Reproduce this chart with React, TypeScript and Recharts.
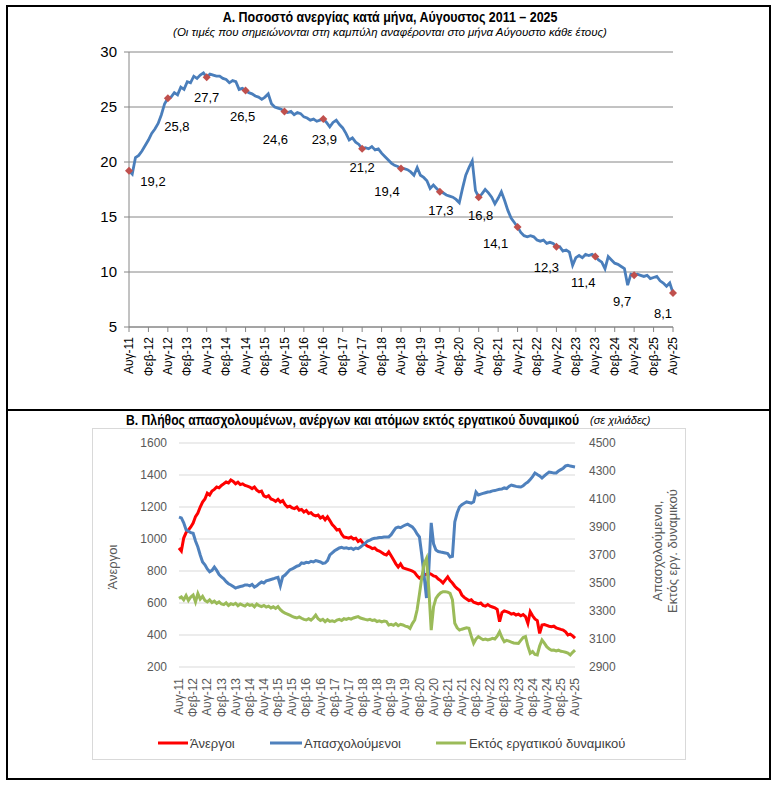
import React from "react";
import { LineChart, Line, XAxis, YAxis, CartesianGrid } from "recharts";

// Greek month abbreviations used for the category labels
const monthNames = ["Ιαν", "Φεβ", "Μαρ", "Απρ", "Μαϊ", "Ιουν", "Ιουλ", "Αυγ", "Σεπ", "Οκτ", "Νοε", "Δεκ"];

// Aug 2011 .. Aug 2025, monthly
const months: string[] = [];
for (let i = 0; i < 169; i++) {
  const m = (7 + i) % 12;
  const y = 2011 + Math.floor((7 + i) / 12);
  months.push(`${monthNames[m]}-${String(y).slice(2)}`);
}

// Panel A: unemployment rate (%)
const unemploymentRate = [
  19.2, 18.9, 20.4, 20.6, 21.0,
  21.5, 22.0, 22.6, 23.0, 23.5, 24.3, 25.3, 25.8, 25.9, 26.3, 26.1, 26.8,
  26.6, 27.3, 27.2, 27.8, 27.6, 27.9, 28.1, 27.7, 28.0, 27.9, 27.8, 27.8,
  27.6, 27.5, 27.2, 27.4, 27.3, 26.6, 26.7, 26.5, 26.3, 26.2, 26.0, 25.9,
  25.7, 25.9, 26.2, 25.3, 25.0, 24.9, 24.8, 24.6, 24.5, 24.6, 24.3, 24.5,
  24.4, 24.1, 24.0, 23.8, 23.9, 23.7, 23.8, 23.9, 23.6, 23.2, 23.6, 23.8,
  23.4, 23.1, 22.6, 22.0, 22.2, 21.8, 21.6, 21.2, 21.3, 21.2, 21.4, 21.1,
  21.2, 20.8, 20.5, 20.2, 19.9, 19.7, 19.6, 19.4, 19.4, 19.3, 19.1, 18.8,
  19.5, 18.8, 18.6, 18.3, 17.6, 17.9, 17.6, 17.3, 17.2, 17.0, 16.9, 16.8,
  16.6, 16.3, 17.6, 18.8, 19.5, 20.1, 17.4, 16.8, 17.1, 17.5, 17.2, 16.8,
  16.2, 16.7, 17.3, 16.5, 15.6, 14.9, 14.5, 14.1, 13.6, 13.3, 13.2, 13.3,
  13.2, 12.9, 12.8, 12.9, 12.6, 12.7, 12.6, 12.3, 12.3, 11.9, 12.0, 11.8,
  10.6, 11.3, 11.5, 11.3, 11.6, 11.5, 11.6, 11.4, 11.1, 10.9, 10.3, 11.4,
  11.1, 10.8, 10.7, 10.5, 10.3, 8.8, 9.8, 9.7, 9.8, 9.7, 9.6, 9.7,
  9.4, 9.5, 9.6, 9.2, 9.0, 8.7, 9.0, 8.1,
];

// Panel B (thousands)
const unemployed = [
  944, 925, 1006, 1040, 1056,
  1075, 1100, 1140, 1162, 1200, 1231, 1250, 1287, 1275, 1300, 1310, 1325,
  1320, 1335, 1345, 1356, 1350, 1369, 1360, 1345, 1355, 1340, 1345, 1335,
  1330, 1325, 1315, 1325, 1305, 1295, 1300, 1270, 1262, 1270, 1250, 1245,
  1235, 1248, 1231, 1240, 1215, 1200, 1205, 1195, 1190, 1200, 1180, 1185,
  1169, 1178, 1160, 1165, 1150, 1145, 1150, 1131, 1140, 1120, 1138, 1115,
  1090, 1075, 1056, 1060, 1030, 1012, 1010, 1005, 1012, 1000, 1005, 985,
  994, 975, 965, 955, 950, 940, 944, 930, 925, 915, 906, 900,
  919, 895, 870, 845, 825, 844, 820, 815, 810, 805, 800, 790,
  770, 756, 765, 775, 780, 787, 780, 769, 765, 750, 740, 725,
  745, 763, 740, 725, 705, 690, 680, 650, 635, 625, 615, 620,
  605, 600, 595, 600, 585, 580, 590, 580, 575, 570, 560, 483,
  540, 550, 546, 540, 530, 535, 525, 530, 520, 528, 515, 473,
  546, 520, 500, 490, 410, 462, 465, 460, 455, 452, 455, 445,
  440, 435, 431, 420, 400, 405, 395, 381,
];

const employed = [
  3971, 3965, 3930, 3880, 3870,
  3860, 3855, 3800, 3757, 3700, 3650, 3630, 3600, 3580, 3590, 3614, 3590,
  3560, 3543, 3530, 3510, 3495, 3486, 3475, 3464, 3470, 3475, 3478, 3486,
  3486, 3480, 3490, 3471, 3480, 3495, 3507, 3500, 3515, 3520, 3525, 3530,
  3536, 3540, 3480, 3545, 3557, 3575, 3593, 3600, 3610, 3620, 3625, 3643,
  3640, 3648, 3645, 3655, 3650, 3660, 3655, 3650, 3640, 3643, 3660, 3700,
  3715, 3730, 3740, 3750, 3755, 3748, 3752, 3745, 3750, 3740, 3750, 3745,
  3757, 3770, 3785, 3800, 3807, 3815, 3820, 3821, 3825, 3825, 3828, 3829,
  3829, 3845, 3870, 3893, 3900, 3895, 3905, 3914, 3920, 3910, 3900, 3880,
  3850, 3829, 3700, 3550, 3393, 3600, 3929, 3780, 3736, 3725, 3721, 3718,
  3714, 3710, 3686, 3690, 3936, 4000, 4043, 4060, 4070, 4079, 4075, 4071,
  4080, 4150, 4129, 4135, 4140, 4145, 4150, 4152, 4158, 4160, 4165, 4170,
  4172, 4179, 4175, 4190, 4200, 4195, 4190, 4188, 4186, 4195, 4210, 4221,
  4240, 4260, 4286, 4275, 4265, 4250, 4265, 4280, 4293, 4290, 4285, 4286,
  4300, 4310, 4320, 4336, 4340, 4335, 4332, 4329,
];

const outsideLabourForce = [
  3390, 3400, 3380, 3410, 3375,
  3400, 3414, 3365, 3425, 3385, 3405, 3375, 3365, 3380, 3360, 3370, 3355,
  3365, 3350, 3345, 3358, 3340, 3352, 3345, 3355, 3338, 3350, 3342, 3335,
  3350, 3340, 3345, 3330, 3350, 3338, 3332, 3340, 3328, 3335, 3322, 3330,
  3318, 3331, 3310, 3295, 3285, 3278, 3270, 3262, 3255, 3250, 3258, 3248,
  3240, 3236, 3245, 3235, 3250, 3271, 3245, 3232, 3240, 3224, 3238, 3226,
  3230, 3224, 3235, 3240, 3232, 3245, 3240, 3248, 3242, 3250, 3255, 3260,
  3250, 3245, 3240, 3236, 3240, 3232, 3236, 3225, 3230, 3222, 3228, 3225,
  3200, 3205, 3198, 3210, 3195, 3205, 3200, 3192, 3188, 3175, 3210, 3236,
  3307, 3420, 3540, 3640, 3676, 3450, 3164, 3331, 3390, 3414, 3430, 3438,
  3438, 3435, 3426, 3380, 3212, 3180, 3164, 3170, 3175, 3180, 3176, 3120,
  3069, 3100, 3117, 3105, 3095, 3100, 3093, 3098, 3105, 3100, 3120, 3152,
  3110, 3081, 3090, 3085, 3078, 3072, 3070, 3069, 3090, 3110, 3117, 3050,
  2998, 3010, 2990, 2986, 3050, 3093, 3070, 3045, 3030, 3020, 3021, 3015,
  3020, 3012, 3010, 3005, 3000, 2986, 3005, 3021,
];

const rateTicks = [5, 10, 15, 20, 25, 30];
const leftTicks = [200, 400, 600, 800, 1000, 1200, 1400, 1600];
const rightTicks = [2900, 3100, 3300, 3500, 3700, 3900, 4100, 4300, 4500];

// label offsets (dx, dy) for the August values, one per year
const labelOffsets = [
  [24, 11], [9, 28], [0, 20], [-3, 26], [-9, 28], [1, 20], [0, 19], [-14, 23],
  [1, 19], [2, 18], [-22, 17], [-10, 21], [-12, 26], [-12, 26], [-10, 21],
];

const dataA = months.map((m, i) => ({ month: m, rate: unemploymentRate[i] }));
const dataB = months.map((m, i) => ({
  month: m,
  unemployed: unemployed[i],
  employed: employed[i],
  outside: outsideLabourForce[i],
}));

const FONT = "'Liberation Sans', Arial, sans-serif";

const VerticalTick = (props: any) => {
  const { x, y, payload, fill } = props;
  return (
    <text
      x={x}
      y={y}
      transform={`rotate(-90 ${x} ${y})`}
      textAnchor="end"
      dy="0.35em"
      fontSize={12}
      fontFamily={FONT}
      fill={fill}
    >
      {payload.value}
    </text>
  );
};

const renderAugust = (props: any) => {
  const { cx, cy, index, payload } = props;
  if (index % 12 !== 0) return <g key={`d${index}`} />;
  const [dx, dy] = labelOffsets[index / 12];
  const r = 4;
  return (
    <g key={`d${index}`}>
      <path d={`M${cx},${cy - r} L${cx + r},${cy} L${cx},${cy + r} L${cx - r},${cy} Z`} fill="#C0504D" />
      <text
        x={cx + dx}
        y={cy + dy}
        textAnchor="middle"
        dominantBaseline="central"
        fontSize={13}
        fontFamily={FONT}
        fill="#000"
      >
        {payload.rate.toFixed(1).replace(".", ",")}
      </text>
    </g>
  );
};

const titleStyle: React.CSSProperties = {
  fontFamily: FONT,
  fontWeight: "bold",
  fontSize: 14,
  color: "#000",
  whiteSpace: "nowrap",
  display: "inline-block",
};

export default function App() {
  return (
    <div style={{ position: "absolute", left: 0, top: 0, width: 780, height: 787, background: "#fff", fontFamily: FONT }}>
      <div style={{ position: "absolute", left: 6, top: 5, width: 765, height: 775, border: "2px solid #000", boxSizing: "border-box" }} />
      <div style={{ position: "absolute", left: 6, top: 409, width: 765, height: 2, background: "#000" }} />

      <div style={{ position: "absolute", left: 0, top: 8, width: 780, textAlign: "center" }}>
        <span style={{ ...titleStyle, transform: "scaleX(0.89)", transformOrigin: "center" }}>
          Α. Ποσοστό ανεργίας κατά μήνα, Αύγουστος 2011 – 2025
        </span>
      </div>
      <div style={{ position: "absolute", left: 0, top: 26, width: 780, textAlign: "center", fontStyle: "italic", fontSize: 11.5, color: "#000" }}>
        (Οι τιμές που σημειώνονται στη καμπύλη αναφέρονται στο μήνα Αύγουστο κάθε έτους)
      </div>

      <div style={{ position: "absolute", left: 0, top: 0 }}>
        <LineChart width={780} height={410} data={dataA} margin={{ top: 52, right: 107, bottom: 13, left: 0 }}>
          <CartesianGrid vertical={false} stroke="#868686" />
          <XAxis
            dataKey="month"
            interval={5}
            height={70}
            stroke="#868686"
            tickSize={5}
            tickMargin={5}
            tick={(p: any) => <VerticalTick {...p} fill="#000" />}
          />
          <YAxis
            domain={[5, 30]}
            ticks={rateTicks}
            width={129}
            stroke="#868686"
            tickSize={5}
            tickMargin={7}
            tick={{ fill: "#000", fontSize: 15, fontFamily: FONT }}
          />
          <Line
            dataKey="rate"
            stroke="#4A7EBB"
            strokeWidth={2.8}
            dot={renderAugust}
            activeDot={false}
            isAnimationActive={false}
          />
        </LineChart>
      </div>

      <div style={{ position: "absolute", left: 126, top: 411 }}>
        <span style={{ ...titleStyle, transform: "scaleX(0.87)", transformOrigin: "left center" }}>
          Β. Πλήθος απασχολουμένων, ανέργων και ατόμων εκτός εργατικού δυναμικού
        </span>
      </div>
      <div style={{ position: "absolute", left: 590, top: 414, fontStyle: "italic", fontSize: 11, color: "#000", whiteSpace: "nowrap" }}>
        (σε χιλιάδες)
      </div>
      <div style={{ position: "absolute", left: 92, top: 428, width: 594, height: 332, border: "1px solid #d9d9d9", boxSizing: "border-box" }} />

      <div style={{ position: "absolute", left: 0, top: 410 }}>
        <LineChart width={780} height={350} data={dataB} margin={{ top: 33, right: 0, bottom: 33, left: 0 }}>
          <CartesianGrid vertical={false} stroke="#d9d9d9" yAxisId="left" />
          <XAxis
            dataKey="month"
            interval={5}
            height={60}
            axisLine={false}
            tickLine={false}
            tickSize={0}
            tickMargin={11}
            tick={(p: any) => <VerticalTick {...p} fill="#595959" />}
          />
          <YAxis
            yAxisId="left"
            domain={[200, 1600]}
            ticks={leftTicks}
            width={179}
            axisLine={false}
            tickLine={false}
            tickSize={0}
            tickMargin={12}
            tick={{ fill: "#595959", fontSize: 12, fontFamily: FONT }}
          />
          <YAxis
            yAxisId="right"
            orientation="right"
            domain={[2900, 4500]}
            ticks={rightTicks}
            width={205}
            axisLine={false}
            tickLine={false}
            tickSize={0}
            tickMargin={14}
            tick={{ fill: "#595959", fontSize: 12, fontFamily: FONT }}
          />
          <Line yAxisId="left" dataKey="unemployed" stroke="#FF0000" strokeWidth={3} dot={false} activeDot={false} isAnimationActive={false} />
          <Line yAxisId="right" dataKey="employed" stroke="#4F81BD" strokeWidth={3} dot={false} activeDot={false} isAnimationActive={false} />
          <Line yAxisId="right" dataKey="outside" stroke="#9BBB59" strokeWidth={3} dot={false} activeDot={false} isAnimationActive={false} />
        </LineChart>
      </div>

      <svg width={780} height={787} style={{ position: "absolute", left: 0, top: 0, pointerEvents: "none" }}>
        <text x={112} y={567} transform="rotate(-90 112 567)" textAnchor="middle" dominantBaseline="central" fontSize={13} fill="#595959" fontFamily={FONT}>
          Άνεργοι
        </text>
        <text transform="rotate(-90 657 551)" x={657} y={551} textAnchor="middle" dominantBaseline="central" fontSize={13} fill="#595959" fontFamily={FONT}>
          Απασχολούμενοι,
        </text>
        <text transform="rotate(-90 672 551)" x={672} y={551} textAnchor="middle" dominantBaseline="central" fontSize={13} fill="#595959" fontFamily={FONT}>
          Εκτός εργ. δυναμικού
        </text>

        <line x1={158} y1={743} x2={188} y2={743} stroke="#FF0000" strokeWidth={3} />
        <text x={190} y={743} dominantBaseline="central" fontSize={13} fill="#404040" fontFamily={FONT}>Άνεργοι</text>
        <line x1={270} y1={743} x2={302} y2={743} stroke="#4F81BD" strokeWidth={3} />
        <text x={304} y={743} dominantBaseline="central" fontSize={13} fill="#404040" fontFamily={FONT}>Απασχολούμενοι</text>
        <line x1={436} y1={743} x2={466} y2={743} stroke="#9BBB59" strokeWidth={3} />
        <text x={469} y={743} dominantBaseline="central" fontSize={13} fill="#404040" fontFamily={FONT}>Εκτός εργατικού δυναμικού</text>
      </svg>
    </div>
  );
}
